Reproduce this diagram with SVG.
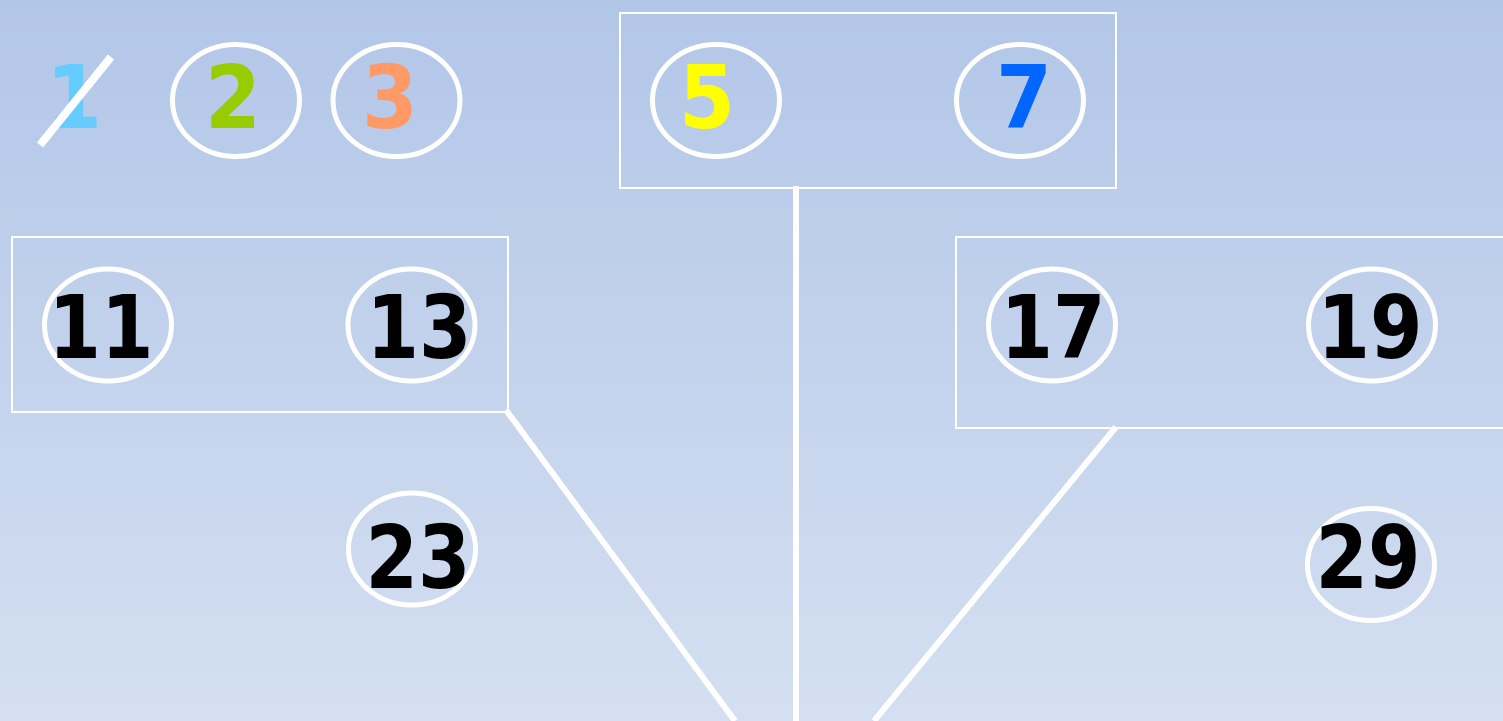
<svg xmlns="http://www.w3.org/2000/svg" width="1503" height="721" viewBox="0 0 1503 721">
<defs>
<linearGradient id="bg" x1="0" y1="0" x2="0" y2="1">
<stop offset="0" stop-color="#B2C6E8"/>
<stop offset="1" stop-color="#D4DFF1"/>
</linearGradient>
</defs>
<style>
.box{fill:none;stroke:#FFFFFF;stroke-width:2}
.ring{fill:none;stroke:#FFFFFF;stroke-width:5}
.num{font-family:"DejaVu Sans",Verdana,sans-serif;font-weight:bold;font-size:87px;text-anchor:middle}
.conn{stroke:#FFFFFF;stroke-width:6;fill:none}
</style>
<rect x="0" y="0" width="1503" height="721" fill="url(#bg)"/>
<g id="group-5-7"><rect class="box" x="620" y="13" width="496" height="175"/></g>
<g id="group-11-13"><rect class="box" x="12" y="237" width="496" height="175"/></g>
<g id="group-17-19"><rect class="box" x="956" y="237" width="560" height="191"/></g>
<g id="connectors">
<line class="conn" x1="796" y1="186" x2="796" y2="721"/>
<line class="conn" x1="506" y1="410" x2="735" y2="721"/>
<line class="conn" x1="1116" y1="427" x2="874" y2="721"/>
</g>
<g id="n1"><text class="num" x="74" y="128" fill="#66CCFF" textLength="56" lengthAdjust="spacingAndGlyphs">1</text><line x1="40" y1="145" x2="111" y2="57" stroke="#FFFFFF" stroke-width="8"/></g>
<g id="n2"><ellipse class="ring" cx="236" cy="100.5" rx="63.5" ry="56"/><text class="num" x="233" y="128" fill="#99CC00" textLength="56" lengthAdjust="spacingAndGlyphs">2</text></g>
<g id="n3"><ellipse class="ring" cx="396.5" cy="100.5" rx="63.5" ry="56"/><text class="num" x="390" y="128" fill="#FF9966" textLength="56" lengthAdjust="spacingAndGlyphs">3</text></g>
<g id="n5"><ellipse class="ring" cx="716" cy="100.5" rx="63.5" ry="56"/><text class="num" x="707" y="128" fill="#FFFF00" textLength="56" lengthAdjust="spacingAndGlyphs">5</text></g>
<g id="n7"><ellipse class="ring" cx="1020" cy="100.5" rx="63.5" ry="56"/><text class="num" x="1024" y="128" fill="#0066FF" textLength="56" lengthAdjust="spacingAndGlyphs">7</text></g>
<g id="n11"><ellipse class="ring" cx="108" cy="325" rx="63.5" ry="56"/><text class="num" x="101" y="358" fill="#000000" textLength="105" lengthAdjust="spacingAndGlyphs">11</text></g>
<g id="n13"><ellipse class="ring" cx="411.5" cy="325" rx="63.5" ry="56"/><text class="num" x="419" y="358" fill="#000000" textLength="105" lengthAdjust="spacingAndGlyphs">13</text></g>
<g id="n17"><ellipse class="ring" cx="1052" cy="325" rx="63.5" ry="56"/><text class="num" x="1053" y="358" fill="#000000" textLength="105" lengthAdjust="spacingAndGlyphs">17</text></g>
<g id="n19"><ellipse class="ring" cx="1372" cy="325" rx="63.5" ry="56"/><text class="num" x="1370" y="358" fill="#000000" textLength="105" lengthAdjust="spacingAndGlyphs">19</text></g>
<g id="n23"><ellipse class="ring" cx="412" cy="549" rx="63.5" ry="56"/><text class="num" x="418" y="588" fill="#000000" textLength="105" lengthAdjust="spacingAndGlyphs">23</text></g>
<g id="n29"><ellipse class="ring" cx="1371" cy="564.5" rx="63.5" ry="56"/><text class="num" x="1368" y="588" fill="#000000" textLength="105" lengthAdjust="spacingAndGlyphs">29</text></g>
</svg>
